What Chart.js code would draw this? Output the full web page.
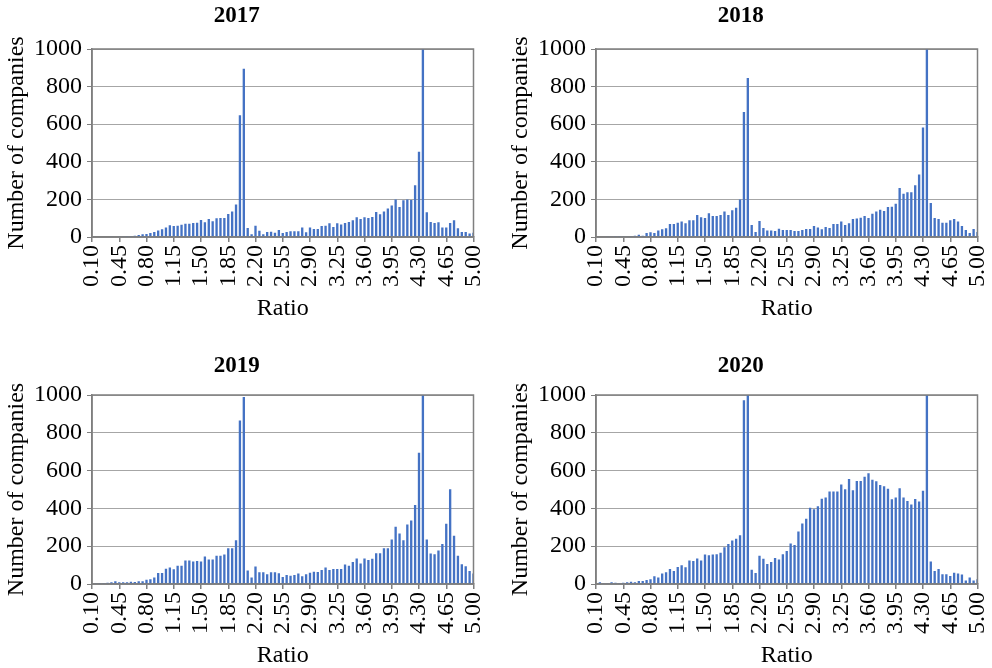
<!DOCTYPE html>
<html><head><meta charset="utf-8">
<script src="https://cdn.jsdelivr.net/npm/chart.js@4"></script>
<style>
html,body{margin:0;padding:0;background:#fff;width:992px;height:668px;overflow:hidden}
canvas{position:absolute}
</style></head><body>
<canvas id="c2017" width="488" height="321" style="left:0;top:0"></canvas>
<canvas id="c2018" width="488" height="321" style="left:504px;top:0"></canvas>
<canvas id="c2019" width="488" height="321" style="left:0;top:347px"></canvas>
<canvas id="c2020" width="488" height="321" style="left:504px;top:347px"></canvas>
<script>
const categories = ["0.10","0.15","0.20","0.25","0.30","0.35","0.40","0.45","0.50","0.55","0.60","0.65","0.70","0.75","0.80","0.85","0.90","0.95","1.00","1.05","1.10","1.15","1.20","1.25","1.30","1.35","1.40","1.45","1.50","1.55","1.60","1.65","1.70","1.75","1.80","1.85","1.90","1.95","2.00","2.05","2.10","2.15","2.20","2.25","2.30","2.35","2.40","2.45","2.50","2.55","2.60","2.65","2.70","2.75","2.80","2.85","2.90","2.95","3.00","3.05","3.10","3.15","3.20","3.25","3.30","3.35","3.40","3.45","3.50","3.55","3.60","3.65","3.70","3.75","3.80","3.85","3.90","3.95","4.00","4.05","4.10","4.15","4.20","4.25","4.30","4.35","4.40","4.45","4.50","4.55","4.60","4.65","4.70","4.75","4.80","4.85","4.90","4.95","5.00"];

const v2017 = [0,0,0,0,2,1,2,4,4,5,5,7,11,14,16,21,27,35,41,51,63,58,60,65,70,70,74,76,90,79,96,84,100,101,101,122,135,173,648,895,48,15,60,33,15,27,28,22,37,21,27,30,30,30,51,25,51,43,43,59,60,73,53,73,67,74,80,89,105,96,105,101,106,133,121,135,152,167,199,160,195,200,197,275,454,1000,131,80,74,78,51,51,74,89,46,27,27,18,23];
const v2018 = [0,0,0,4,1,5,5,1,4,5,7,12,7,21,25,21,35,41,46,69,69,76,82,73,89,89,117,105,101,126,112,112,117,135,117,142,156,200,665,846,64,27,85,48,34,34,32,44,37,37,37,32,32,37,43,43,58,51,41,53,48,69,69,83,64,73,96,99,103,112,101,124,135,145,138,160,161,177,261,230,238,238,275,333,583,1000,181,101,96,76,76,89,96,82,58,37,21,43,27];
const v2019 = [2,4,5,5,7,9,14,9,9,9,12,11,14,14,23,25,35,58,58,81,87,78,97,97,124,124,119,122,119,145,129,129,149,150,156,189,189,232,865,990,71,35,92,62,62,51,62,62,57,37,48,44,48,55,41,51,60,65,64,74,87,74,80,80,80,103,96,117,135,108,135,127,133,163,163,189,189,235,303,267,232,315,336,418,694,1000,235,161,158,177,211,319,501,255,149,104,94,69,55];
const v2020 = [3,9,4,4,9,7,5,7,9,12,9,16,16,21,25,41,34,55,62,80,69,90,99,88,124,122,135,124,156,152,156,158,165,195,212,230,239,258,972,1000,76,58,149,133,106,117,137,130,158,175,214,207,278,320,345,404,396,412,451,458,490,490,490,527,501,556,496,545,545,568,586,552,543,524,517,504,448,458,506,458,439,421,450,437,494,1000,119,69,80,51,51,42,60,55,50,19,34,19,25];

const yTicks = [0,200,400,600,800,1000];
const FONT = "'Liberation Serif', 'DejaVu Serif', serif";
const AXIS = '#7f7f7f';
const FS = 24;

const frame = {
  id: 'frame',
  afterDatasetsDraw(chart) {
    const {ctx, chartArea: a} = chart;
    ctx.save();
    ctx.strokeStyle = AXIS;
    ctx.lineWidth = 1.5;
    ctx.strokeRect(a.left, a.top, a.right - a.left, a.bottom - a.top);
    ctx.restore();
  }
};

function makeChart(id, title, values, titlePad) {
  new Chart(document.getElementById(id), {
    type: 'bar',
    data: {
      labels: categories,
      datasets: [{ data: values, backgroundColor: '#4472C4', borderWidth: 0, barPercentage: 0.6, categoryPercentage: 1 }]
    },
    options: {
      responsive: false,
      animation: false,
      layout: { padding: { left: 0, right: 14.5, top: 0, bottom: 0 } },
      plugins: {
        legend: { display: false },
        tooltip: { enabled: false },
        title: { display: true, text: title, color: '#000', font: { family: FONT, size: 23, weight: 'bold', lineHeight: 1.2 }, padding: titlePad }
      },
      scales: {
        x: {
          type: 'category',
          offset: false,
          grid: {
            offset: false, drawOnChartArea: false, drawTicks: true, tickLength: 5, lineWidth: 1.5,
            color: c => (c.index % 7 === 0 ? AXIS : 'rgba(0,0,0,0)')
          },
          border: { display: true, color: AXIS, width: 1.5 },
          ticks: {
            autoSkip: false, maxRotation: 90, minRotation: 90, padding: 3, color: '#000',
            font: { family: FONT, size: FS },
            callback: (v, i) => (i % 7 === 0 ? categories[i] : '')
          },
          title: { display: true, text: 'Ratio', color: '#000', font: { family: FONT, size: FS, lineHeight: 1 }, padding: { top: 0, bottom: 0 } },
          afterFit: s => { s.height = 84; s.paddingLeft = 0; s.paddingRight = 0; }
        },
        y: {
          min: yTicks[0], max: yTicks[yTicks.length - 1],
          ticks: { stepSize: 200, padding: 5, color: '#000', font: { family: FONT, size: FS }, callback: v => String(v) },
          grid: { color: '#a6a6a6', lineWidth: 1, tickColor: AXIS, tickLength: 5 },
          border: { display: true, color: AXIS, width: 1.5 },
          title: { display: true, text: 'Number of companies', color: '#000', font: { family: FONT, size: FS, lineHeight: 1 }, padding: { top: 5, bottom: 0 } },
          afterFit: s => { s.width = 92; s.paddingTop = 0; s.paddingBottom = 0; }
        }
      }
    },
    plugins: [frame]
  });
}

makeChart('c2017', '2017', v2017, { top: 2, bottom: 19.4 });
makeChart('c2018', '2018', v2018, { top: 2, bottom: 19.4 });
makeChart('c2019', '2019', v2019, { top: 5, bottom: 15.4 });
makeChart('c2020', '2020', v2020, { top: 5, bottom: 15.4 });
</script>
</body></html>
